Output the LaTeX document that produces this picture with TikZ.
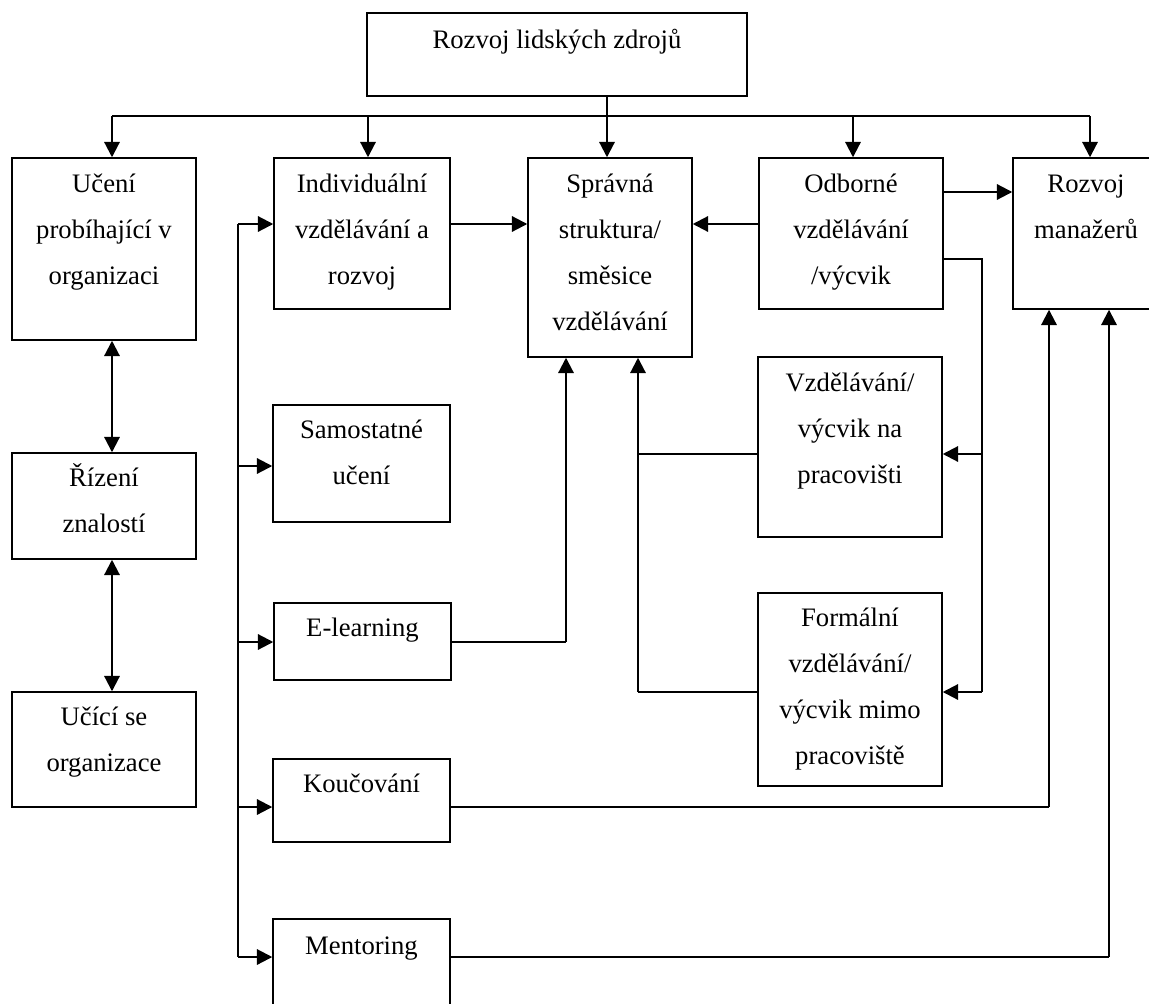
\documentclass[tikz,border=0pt]{standalone}
\usepackage{fontspec}
\setmainfont{Liberation Serif}
\usetikzlibrary{arrows.meta,calc}
\newcommand\boxtext[1]{\parbox[t]{8cm}{\centering #1}}
\begin{document}
\begin{tikzpicture}[x=0.75pt,y=-0.75pt,
  box/.style={draw,line width=1.1pt,inner sep=0pt,rectangle},
  lbl/.style={anchor=base,inner sep=0pt,font=\fontsize{20}{34.5}\selectfont},
  thinl/.style={line width=1.1pt},
  arr/.style={line width=1.6pt,-{Triangle[length=11.5pt,width=11.5pt]}},
  darr/.style={line width=1.6pt,{Triangle[length=11.5pt,width=11.5pt]}-{Triangle[length=11.5pt,width=11.5pt]}}]
\useasboundingbox (0,0) rectangle (1149,1003);
\clip (0,0) rectangle (1149,1003);
% boxes
\node[box,minimum width=380*0.75pt,minimum height=83*0.75pt] (top) at (557,54.5) {};
\node[box,minimum width=184*0.75pt,minimum height=182*0.75pt] (ucen) at (104,249) {};
\node[box,minimum width=176*0.75pt,minimum height=151*0.75pt] (indiv) at (362,233.5) {};
\node[box,minimum width=164*0.75pt,minimum height=199*0.75pt] (sprav) at (610,257.5) {};
\node[box,minimum width=184*0.75pt,minimum height=151*0.75pt] (odbor) at (851,233.5) {};
\node[box,minimum width=146*0.75pt,minimum height=151*0.75pt] (manaz) at (1086,233.5) {};
\node[box,minimum width=177*0.75pt,minimum height=117*0.75pt] (samost) at (361.5,463.5) {};
\node[box,minimum width=177*0.75pt,minimum height=77*0.75pt] (elearn) at (362.5,641.5) {};
\node[box,minimum width=177*0.75pt,minimum height=83*0.75pt] (kouc) at (361.5,800.5) {};
\node[box,minimum width=177*0.75pt,minimum height=95*0.75pt] (mentor) at (361.5,966.5) {};
\node[box,minimum width=184*0.75pt,minimum height=180*0.75pt] (vzdel) at (850,447) {};
\node[box,minimum width=184*0.75pt,minimum height=193*0.75pt] (formal) at (850,689.5) {};
\node[box,minimum width=184*0.75pt,minimum height=106*0.75pt] (rizeni) at (104,506) {};
\node[box,minimum width=184*0.75pt,minimum height=115*0.75pt] (ucici) at (104,749.5) {};
% texts
\node[lbl] (ttop) at ($(top.north)+(0,36)$) {\boxtext{Rozvoj lidských zdrojů}};
\node[lbl] (tucen) at ($(ucen.north)+(0,35)$) {\boxtext{Učení\\probíhající v\\organizaci}};
\node[lbl] (tindiv) at ($(indiv.north)+(0,35)$) {\boxtext{Individuální\\vzdělávání a\\rozvoj}};
\node[lbl] (tsprav) at ($(sprav.north)+(0,35)$) {\boxtext{Správná\\struktura/\\směsice\\vzdělávání}};
\node[lbl] (todbor) at ($(odbor.north)+(0,35)$) {\boxtext{Odborné\\vzdělávání\\/výcvik}};
\node[lbl] (tmanaz) at ($(manaz.north)+(0,35)$) {\boxtext{Rozvoj\\manažerů}};
\node[lbl] (tsamost) at ($(samost.north)+(0,34)$) {\boxtext{Samostatné\\učení}};
\node[lbl] (telearn) at ($(elearn.north)+(0,34)$) {\boxtext{E-learning}};
\node[lbl] (tkouc) at ($(kouc.north)+(0,34)$) {\boxtext{Koučování}};
\node[lbl] (tmentor) at ($(mentor.north)+(0,36)$) {\boxtext{Mentoring}};
\node[lbl] (tvzdel) at ($(vzdel.north)+(0,35)$) {\boxtext{Vzdělávání/\\výcvik na\\pracovišti}};
\node[lbl] (tformal) at ($(formal.north)+(0,34)$) {\boxtext{Formální\\vzdělávání/\\výcvik mimo\\pracoviště}};
\node[lbl] (trizeni) at ($(rizeni.north)+(0,34)$) {\boxtext{Řízení\\znalostí}};
\node[lbl] (tucici) at ($(ucici.north)+(0,34)$) {\boxtext{Učící se\\organizace}};
% helper coordinates
\coordinate (busy) at (0,116);
\coordinate (ya) at (0,224);
\coordinate (yb) at (0,192);
\coordinate (yc) at (0,259);
\coordinate (yv) at (0,454);
\coordinate (yf) at (0,692);
\coordinate (ys) at (0,466);
\coordinate (ye) at (0,642);
\coordinate (yk) at (0,807);
\coordinate (ym) at (0,957);
\coordinate (xu) at (112,0);
\coordinate (xi) at (368,0);
\coordinate (xs) at (607,0);
\coordinate (xo) at (853,0);
\coordinate (xm) at (1090,0);
\coordinate (xl) at (238,0);
\coordinate (xr) at (982,0);
\coordinate (xp) at (638,0);
\coordinate (xe) at (566,0);
\coordinate (xk) at (1049,0);
\coordinate (xn) at (1109,0);
% top distribution
\draw[arr] (xs |- top.south) -- (xs |- sprav.north);
\draw[thinl] (xu |- busy) -- (xm |- busy);
\draw[arr] (xu |- busy) -- (xu |- ucen.north);
\draw[arr] (xi |- busy) -- (xi |- indiv.north);
\draw[arr] (xo |- busy) -- (xo |- odbor.north);
\draw[arr] (xm |- busy) -- (xm |- manaz.north);
% left column
\draw[darr] (xu |- ucen.south) -- (xu |- rizeni.north);
\draw[darr] (xu |- rizeni.south) -- (xu |- ucici.north);
% into Spravna
\draw[arr] (indiv.east |- ya) -- (sprav.west |- ya);
\draw[arr] (odbor.west |- ya) -- (sprav.east |- ya);
\draw[arr] (odbor.east |- yb) -- (manaz.west |- yb);
% Odborne right bus
\draw[thinl] (odbor.east |- yc) -- (xr |- yc) -- (xr |- yf);
\draw[arr] (xr |- yv) -- (vzdel.east |- yv);
\draw[arr] (xr |- yf) -- (formal.east |- yf);
% back to Spravna
\draw[thinl] (vzdel.west |- yv) -- (xp |- yv);
\draw[thinl] (formal.west |- yf) -- (xp |- yf);
\draw[arr] (xp |- yf) -- (xp |- sprav.south);
\draw[thinl] (elearn.east |- ye) -- (xe |- ye);
\draw[arr] (xe |- ye) -- (xe |- sprav.south);
% left bus
\draw[thinl] (xl |- ya) -- (xl |- ym);
\draw[arr] (xl |- ya) -- (indiv.west |- ya);
\draw[arr] (xl |- ys) -- (samost.west |- ys);
\draw[arr] (xl |- ye) -- (elearn.west |- ye);
\draw[arr] (xl |- yk) -- (kouc.west |- yk);
\draw[arr] (xl |- ym) -- (mentor.west |- ym);
% to Rozvoj manazeru
\draw[thinl] (kouc.east |- yk) -- (xk |- yk);
\draw[arr] (xk |- yk) -- (xk |- manaz.south);
\draw[thinl] (mentor.east |- ym) -- (xn |- ym);
\draw[arr] (xn |- ym) -- (xn |- manaz.south);
\end{tikzpicture}
\end{document}
